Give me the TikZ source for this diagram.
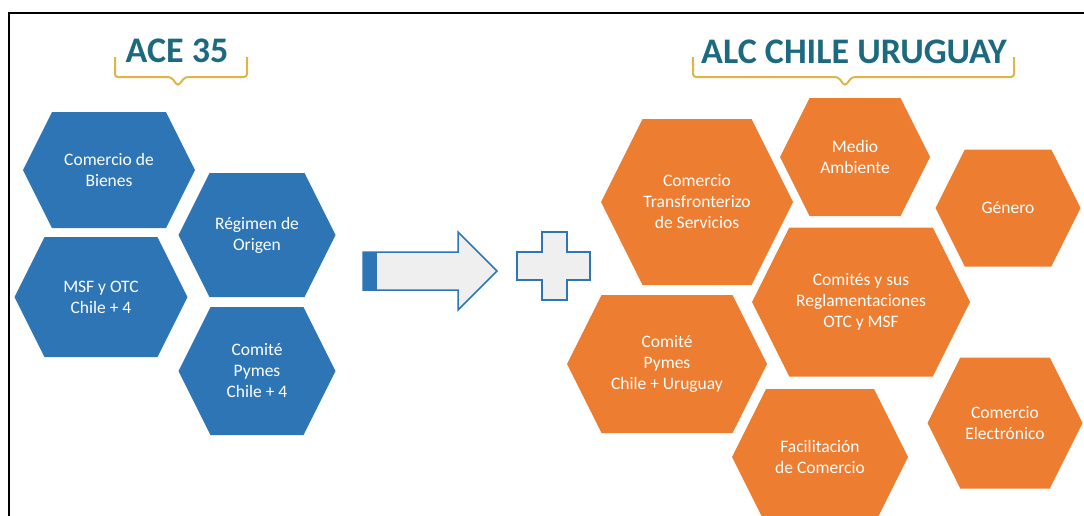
\documentclass[tikz,border=0pt]{standalone}
\usepackage{fontspec}
\setmainfont{Carlito}
\definecolor{azul}{HTML}{2E75B6}
\definecolor{naranja}{HTML}{ED7D31}
\definecolor{petroleo}{HTML}{1D6A80}
\definecolor{oro}{HTML}{DDB54A}
\definecolor{gris}{HTML}{EFEFEF}
% #1 name, #2 x, #3 y, #4 width, #5 height, #6 colour, #7 text
\newcommand{\hexcell}[7]{%
  \fill[#6]({#2-#4/2},#3)--({#2-#4/2+#5/4},{#3-#5/2})--({#2+#4/2-#5/4},{#3-#5/2})
    --({#2+#4/2},#3)--({#2+#4/2-#5/4},{#3+#5/2})--({#2-#4/2+#5/4},{#3+#5/2})--cycle;
  \node[celda](#1) at (#2,#3){#7};}

\begin{document}
\begin{tikzpicture}[x=1pt, y=-1pt,
    celda/.style={text=white, align=center, inner sep=0pt, font=\fontsize{17.5}{21}\selectfont},
    titulo/.style={text=petroleo, anchor=base, font=\fontsize{36}{40}\selectfont\bfseries},
    llave/.style={oro, line width=2pt, rounded corners=3pt}]
    \useasboundingbox (0,0) rectangle (1084,515);
    \clip (0,0) rectangle (1084,515);
    \draw[line width=2pt](9,516)--(9,13)--(1085,13);

    \node[titulo](ace) at (177,62){ACE 35};
    \draw[llave](115,57)--(115,77)--(171,77)--(178,86)--(185,77)--(247,77)--(247,57);
    \node[titulo](alc) at (854,63){ALC CHILE URUGUAY};
    \draw[llave](693,57)--(693,77)--(838,77)--(845,86)--(852,77)--(1014,77)--(1014,57);

    \hexcell{bienes}{109}{170}{172}{116}{azul}{Comercio de\\Bienes}
    \hexcell{origen}{257}{235}{157}{124}{azul}{Régimen de\\Origen}
    \hexcell{msf}{101}{297}{173}{120}{azul}{MSF y OTC\\Chile + 4}
    \hexcell{pymes}{257}{371}{157}{128}{azul}{Comité\\Pymes\\Chile + 4}

    \filldraw[fill=gris, draw=azul, line width=1.5pt]
    (363,252)--(458,252)--(458,232)--(497,271)--(458,310)--(458,290)--(363,290)--cycle;
    \fill[azul](363,252) rectangle (377,290);
    \filldraw[fill=gris, draw=azul, line width=1.5pt]
    (542,232)--(567,232)--(567,252)--(590,252)--(590,280)--(567,280)--(567,300)
    --(542,300)--(542,280)--(517,280)--(517,252)--(542,252)--cycle;

    \hexcell{servicios}{697}{202}{192}{166}{naranja}{Comercio\\Transfronterizo\\de Servicios}
    \hexcell{ambiente}{855}{157}{150}{118}{naranja}{Medio\\Ambiente}
    \hexcell{genero}{1008}{208}{145}{117}{naranja}{Género}
    \hexcell{comites}{861}{302}{218}{149}{naranja}{Comités y sus\\Reglamentaciones\\OTC y MSF}
    \hexcell{pymesuy}{667}{364}{200}{138}{naranja}{Comité\\Pymes\\Chile + Uruguay}
    \hexcell{facilitacion}{820}{457}{176}{136}{naranja}{Facilitación\\de Comercio}
    \hexcell{electronico}{1005}{423}{155}{131}{naranja}{Comercio\\Electrónico}
\end{tikzpicture}
\end{document}
